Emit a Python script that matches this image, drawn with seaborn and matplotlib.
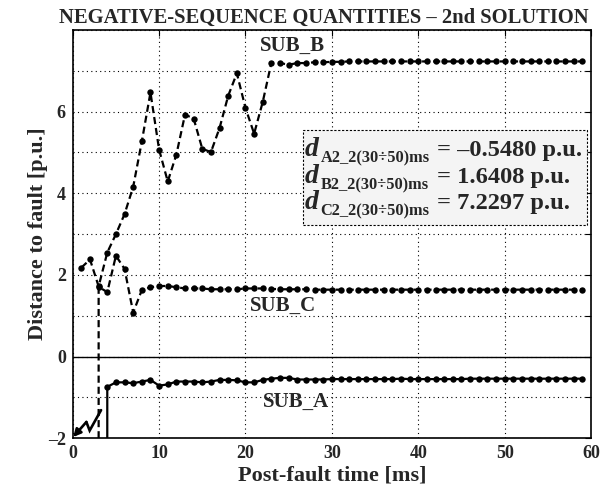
import numpy as np
import pandas as pd
import matplotlib
matplotlib.use("Agg")
import matplotlib.pyplot as plt
import seaborn as sns
from matplotlib.patches import Rectangle

# ---------------- data ----------------
t_b = list(range(1, 60))
sub_b = [2.18, 2.38, 1.72, 2.55, 3.00, 3.49, 4.16, 5.27, 6.47, 5.07,
         4.29, 4.95, 5.93, 5.83, 5.09, 5.01, 5.60, 6.39, 6.94, 6.09,
         5.46, 6.24, 7.20, 7.19, 7.15, 7.19, 7.19, 7.21, 7.21, 7.22,
         7.22, 7.23, 7.23, 7.23, 7.23, 7.23, 7.23, 7.23, 7.23, 7.23,
         7.23, 7.23, 7.23, 7.23, 7.23, 7.23, 7.23, 7.23, 7.23, 7.23,
         7.23, 7.23, 7.23, 7.23, 7.23, 7.23, 7.23, 7.23, 7.23]

t_c = list(range(3, 60))
sub_c = [1.71, 1.58, 2.47, 2.15, 1.08, 1.63, 1.70, 1.73, 1.73, 1.70,
         1.67, 1.67, 1.67, 1.65, 1.65, 1.65, 1.65, 1.67, 1.67, 1.67,
         1.66, 1.65, 1.65, 1.65, 1.65, 1.64, 1.64, 1.64, 1.64, 1.64,
         1.64, 1.64, 1.64, 1.64, 1.64, 1.64, 1.64, 1.64, 1.64, 1.64,
         1.64, 1.64, 1.64, 1.64, 1.64, 1.64, 1.64, 1.64, 1.64, 1.64,
         1.64, 1.64, 1.64, 1.64, 1.64, 1.64, 1.64]

t_a = list(range(4, 60))
sub_a = [-0.74, -0.63, -0.63, -0.65, -0.61, -0.57, -0.71, -0.68, -0.61, -0.61,
         -0.61, -0.63, -0.61, -0.57, -0.57, -0.58, -0.63, -0.63, -0.57, -0.54,
         -0.52, -0.52, -0.56, -0.56, -0.56, -0.56, -0.55, -0.55, -0.55, -0.55,
         -0.55, -0.55, -0.55, -0.55, -0.54, -0.55, -0.55, -0.55, -0.55, -0.55,
         -0.55, -0.55, -0.54, -0.54, -0.54, -0.54, -0.54, -0.54, -0.54, -0.54,
         -0.54, -0.54, -0.54, -0.54, -0.54, -0.54]

x_ticks = [0, 10, 20, 30, 40, 50, 60]
y_ticks = [-2, 0, 2, 4, 6]
y_lim = (-2, 8)
x_lim = (0, 60)

title = "NEGATIVE-SEQUENCE QUANTITIES \u2013 2nd SOLUTION"
x_label = "Post-fault time [ms]"
y_label = "Distance to fault [p.u.]"
series_labels = ["SUB_B", "SUB_C", "SUB_A"]
series_label_pos = [(25.4, 7.6), (24.4, 1.25), (25.8, -1.11)]
box_names = ["A2_2(30\u00f750)ms", "B2_2(30\u00f750)ms", "C2_2(30\u00f750)ms"]
box_values = ["= \u20130.5480 p.u.", "= 1.6408 p.u.", "= 7.2297 p.u."]

# ---------------- style ----------------
sns.set_theme(style="white")
plt.rcParams['font.family'] = ['Liberation Serif', 'DejaVu Serif']
plt.rcParams['font.weight'] = 'bold'
plt.rcParams['axes.labelweight'] = 'bold'
plt.rcParams['axes.titleweight'] = 'bold'

fig = plt.figure(figsize=(6.04, 4.87), dpi=100)
ax = fig.add_axes([0.1204, 0.1, 0.8581, 0.8384])

# prepend start from bottom of axis (curve undefined before)
c_x = [t_c[0]] + t_c
c_y = [y_lim[0]] + sub_c
a_x = [t_a[0]] + t_a
a_y = [y_lim[0]] + sub_a

df_b = pd.DataFrame({"t": t_b, "d": sub_b})
df_c = pd.DataFrame({"t": c_x, "d": c_y})
df_a = pd.DataFrame({"t": a_x, "d": a_y})

common = dict(x="t", y="d", ax=ax, color="black", estimator=None, sort=False,
              marker="o", markersize=4.6, markeredgewidth=0, lw=1.6)
sns.lineplot(data=df_b, linestyle=(0, (3.2, 1.8)), **common)
sns.lineplot(data=df_c, linestyle=(0, (3.2, 1.8)), markevery=slice(1, None), **common)
sns.lineplot(data=df_a, linestyle="-", markevery=slice(1, None), **common)

ax.axhline(0, color="black", lw=1.0, zorder=1)

ax.set_xlim(*x_lim)
ax.set_ylim(*y_lim)
ax.set_xticks(x_ticks)
ax.set_yticks(y_ticks)
ax.set_yticks(np.arange(y_lim[0], y_lim[1] + 1, 1), minor=True)
ax.grid(True, which="major", axis="x", color="black", linestyle=(0, (1, 3)), lw=0.8)
ax.grid(True, which="both", axis="y", color="black", linestyle=(0, (1, 3)), lw=0.8)
ax.tick_params(axis="both", which="both", direction="in", top=True, right=True,
               length=4, width=0.8, color="black", labelsize=13)
ax.tick_params(axis="x", pad=5)
ax.tick_params(axis="y", pad=5)
ax.set_xticklabels([str(v) for v in x_ticks], fontweight="bold")
ax.set_yticklabels([str(v).replace("-", "\u2013") for v in y_ticks], fontweight="bold")

for s in ax.spines.values():
    s.set_color("black")
    s.set_linewidth(1.2)

ax.set_xlabel(x_label, fontsize=16, fontweight="bold", labelpad=2)
ax.set_ylabel(y_label, fontsize=16, fontweight="bold", labelpad=0)
ax.set_title(title, fontsize=14.9, fontweight="bold", pad=5, x=0.485)

for lab, (lx, ly) in zip(series_labels, series_label_pos):
    ax.text(lx, ly, lab, fontsize=15, fontweight="bold", ha="center", va="center")

# result box
ax.add_patch(Rectangle((0.4448, 0.5231), 0.5474, 0.2327, transform=ax.transAxes,
                       facecolor="#f4f4f4", edgecolor="black", lw=0.8,
                       linestyle=(0, (2, 1.5)), zorder=3))
base_y = [0.6914, 0.6253, 0.5616]
for by, nm, val in zip(base_y, box_names, box_values):
    ax.text(0.4480, by, "d", transform=ax.transAxes, fontsize=20, fontstyle="italic",
            fontweight="bold", va="baseline", ha="left", zorder=4)
    ax.text(0.4785, by - 0.0147, nm, transform=ax.transAxes, fontsize=11.8,
            fontweight="bold", va="baseline", ha="left", zorder=4)
    ax.text(0.7029, by, val, transform=ax.transAxes, fontsize=17.6,
            fontweight="bold", va="baseline", ha="left", zorder=4)

# fault (lightning) symbol at the origin
bolt_x = [3.28, 1.96, 1.58]
bolt_y = [-1.31, -1.81, -1.60]
ax.plot(bolt_x, bolt_y, color="black", lw=1.9, zorder=5, solid_joinstyle="miter")
ax.annotate("", xy=(0.05, -1.97), xytext=(bolt_x[-1], bolt_y[-1]),
            arrowprops=dict(arrowstyle="-|>", color="black", lw=1.9,
                            mutation_scale=11, shrinkA=0, shrinkB=0))

fig.savefig("out.png", dpi=100)
